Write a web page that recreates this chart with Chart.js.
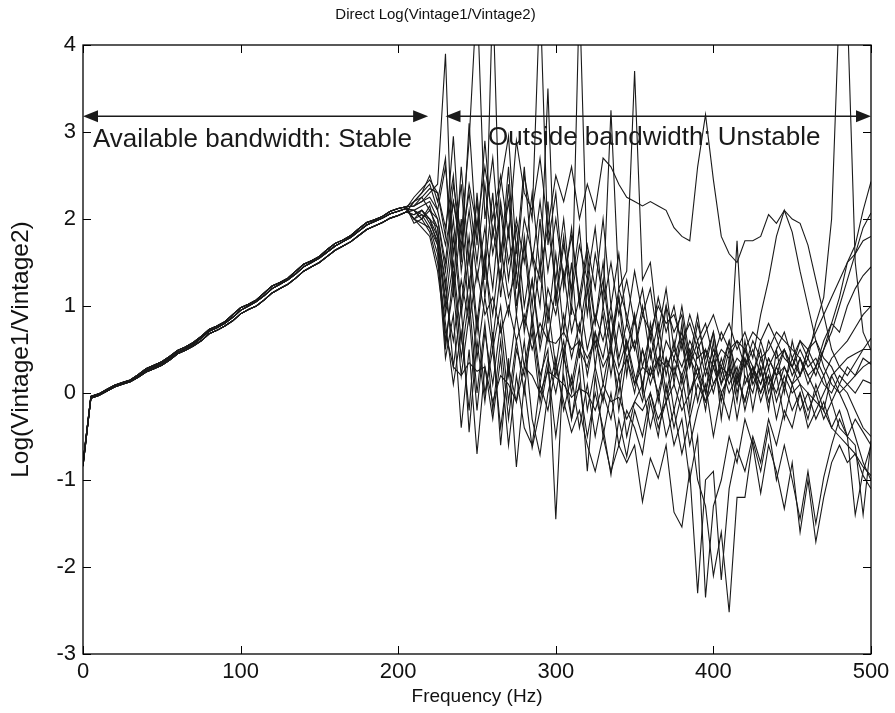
<!DOCTYPE html>
<html>
<head>
<meta charset="utf-8">
<title>Direct Log(Vintage1/Vintage2)</title>
<script src="https://cdn.jsdelivr.net/npm/chart.js@4.4.0/dist/chart.umd.min.js"></script>
<style>
  html, body { margin: 0; padding: 0; background: #fff; }
  #wrap { width: 895px; height: 713px; }
</style>
</head>
<body>
<div id="wrap"><canvas id="logChart" width="895" height="713"></canvas></div>
<script>
const freqHz = [
  0, 5, 10, 15, 20, 25, 30, 35, 40, 45, 50, 55, 60, 65, 70, 75, 80, 85, 90, 95,
  100, 105, 110, 115, 120, 125, 130, 135, 140, 145, 150, 155, 160, 165, 170, 175, 180, 185, 190, 195,
  200, 205, 210, 215, 220, 225, 230, 235, 240, 245, 250, 255, 260, 265, 270, 275, 280, 285, 290, 295,
  300, 305, 310, 315, 320, 325, 330, 335, 340, 345, 350, 355, 360, 365, 370, 375, 380, 385, 390, 395,
  400, 405, 410, 415, 420, 425, 430, 435, 440, 445, 450, 455, 460, 465, 470, 475, 480, 485, 490, 495, 500
];

// 0 - 205 Hz, the stable part (three slightly different traces of the band)
const stableA = [-0.8, -0.04, -0.01, 0.04, 0.09, 0.12, 0.15, 0.21, 0.28, 0.32, 0.36, 0.42, 0.49, 0.53, 0.58, 0.65, 0.73, 0.77, 0.82, 0.90,
  0.98, 1.02, 1.07, 1.15, 1.23, 1.27, 1.32, 1.40, 1.48, 1.52, 1.57, 1.65, 1.72, 1.76, 1.81, 1.89, 1.96, 1.99, 2.03, 2.09, 2.12, 2.14];
const stableB = [-0.82, -0.05, -0.02, 0.03, 0.08, 0.11, 0.14, 0.19, 0.26, 0.30, 0.34, 0.40, 0.47, 0.51, 0.56, 0.63, 0.71, 0.75, 0.80, 0.87,
  0.95, 1.00, 1.05, 1.12, 1.20, 1.25, 1.30, 1.37, 1.45, 1.50, 1.55, 1.62, 1.69, 1.74, 1.79, 1.86, 1.93, 1.97, 2.01, 2.06, 2.09, 2.12];
const stableC = [-0.84, -0.06, -0.03, 0.02, 0.07, 0.10, 0.13, 0.18, 0.24, 0.28, 0.32, 0.38, 0.45, 0.49, 0.54, 0.60, 0.68, 0.72, 0.77, 0.83,
  0.91, 0.96, 1.00, 1.07, 1.15, 1.20, 1.25, 1.32, 1.40, 1.45, 1.50, 1.57, 1.64, 1.69, 1.74, 1.81, 1.88, 1.92, 1.96, 2.01, 2.04, 2.08];

// 210 - 500 Hz, one array per measurement
const run01 = [2.15, 2.2, 2.3, 2.4, 3.9, 1.2, 2.6, 1.5, 2.2, 1.1,
  1.9, 1.3, 2.4, 1.0, 1.7, 0.8, 1.5, 0.6, 1.2, 0.4,
  1.0, 0.7, 1.3, 0.5, 0.9, 0.2, 0.8, 0.4, 0.6, 0.1,
  0.5, -0.1, 0.4, 0.2, 0.6, 0.0, 0.3, -0.2, 0.4, 0.1,
  0.3, -0.3, 0.2, 0.0, 0.4, 0.1, 0.3, 0.5, 0.2, 0.4,
  0.1, 0.3, 0.5, 0.8, 1.1, 1.5, 1.7, 2.1, 2.43];
const run02 = [2.1, 2.15, 2.2, 2.0, 1.5, 2.4, 1.8, 2.9, 4.6, 2.0,
  2.7, 1.6, 2.2, 1.4, 2.5, 2.0, 4.6, 1.7, 2.3, 1.2,
  1.9, 1.0, 1.6, 0.8, 1.3, 0.6, 1.1, 0.5, 0.9, 0.3,
  0.7, 0.2, 0.6, 0.4, 0.7, 0.3, 0.6, 0.2, 0.5, 0.3,
  0.6, 0.2, 0.5, 0.3, 0.1, 0.4, 0.2, 0.3, 0.1, 0.2,
  0.4, 0.2, 0.5, 0.7, 1.0, 1.3, 1.6, 1.9, 2.07];
const run03 = [2.2, 2.3, 2.5, 2.2, 2.7, 1.1, 2.0, 0.9, 2.3, 1.3,
  4.6, 1.5, 2.6, 1.2, 2.0, 1.6, 1.0, 2.2, 1.1, 1.8,
  0.9, 4.6, 1.4, 0.8, 1.5, 0.6, 1.2, 0.9, 0.5, 1.0,
  0.4, 0.8, 0.2, 0.6, 0.1, 0.5, 0.3, 0.0, 0.4, -0.1,
  0.3, 0.1, 0.5, 0.2, 0.6, 0.3, 0.5, 0.7, 0.4, 0.6,
  0.5, 0.7, 0.9, 1.1, 1.3, 1.5, 1.6, 1.75, 1.8];
const run04 = [2.15, 2.2, 2.25, 2.1, 1.7, 2.2, 1.6, 2.4, 1.9, 2.6,
  2.0, 2.5, 1.8, 2.9, 2.3, 2.1, 2.7, 1.9, 2.5, 2.2,
  2.6, 2.0, 2.4, 2.1, 2.7, 2.6, 2.4, 2.25, 2.2, 2.15,
  2.2, 2.15, 2.1, 1.9, 1.8, 1.75, 2.6, 3.2, 2.45, 1.8,
  1.6, 1.5, 1.75, 1.75, 1.8, 2.05, 1.95, 2.1, 2.0, 1.95,
  1.7, 1.3, 0.9, 0.5, 0.3, 0.2, 0.35, 0.5, 0.63];
const run05 = [2.1, 2.0, 2.1, 1.9, 1.0, 1.8, 0.9, 1.6, 0.7, 1.5,
  0.9, 1.7, 1.1, 1.4, 0.8, 1.3, 0.6, 1.2, 0.9, 1.4,
  0.7, 1.1, 0.5, 0.9, 0.6, 1.0, 0.4, 0.8, 0.5, 0.9,
  0.7, 1.0, 0.8, 0.9, 0.6, 0.8, 0.5, 0.7, 0.9, 0.6,
  0.8, 0.5, 0.7, 0.4, 0.9, 1.3, 1.8, 2.1, 1.85, 1.4,
  1.0, 0.6, 0.3, 0.1, 0.0, 0.1, 0.2, 0.3, 0.36];
const run06 = [2.05, 2.1, 2.0, 1.8, 0.9, 1.5, 0.6, 1.3, 0.4, 1.1,
  0.5, 1.0, 0.2, 0.9, 0.3, 0.8, 0.1, 0.7, 0.2, 0.6,
  0.0, 0.5, 0.3, 0.7, 0.1, 0.6, -0.2, 0.4, 0.0, 0.5,
  0.1, 0.4, -0.1, 0.3, 0.0, 0.4, 0.2, 0.5, 0.1, 0.3,
  0.0, 0.2, -0.1, 0.3, 0.1, 0.4, 0.2, 0.5, 0.3, 0.6,
  0.4, 0.8, 1.1, 2.0, 4.5, 4.4, 1.5, 0.7, 0.49];
const run07 = [2.0, 2.05, 1.9, 1.7, 0.6, 1.2, 0.2, 0.9, -0.2, 0.7,
  0.1, 0.8, -0.1, 0.6, 0.0, 0.9, 0.2, 0.5, -1.45, 0.4,
  0.1, 0.6, -0.2, 0.3, -0.1, 0.5, 0.0, 0.6, 0.2, -0.1,
  0.3, 0.0, 0.4, -0.2, 0.2, -0.3, 0.1, -0.1, 0.3, 0.0,
  0.2, 1.75, 0.1, 0.3, -0.1, 0.2, 0.0, 0.3, 0.1, 0.4,
  0.2, 0.0, 0.2, -0.1, 0.1, 0.3, 0.2, 0.4, 0.33];
const run08 = [2.0, 1.95, 1.9, 1.6, 0.4, 0.9, -0.4, 0.5, -0.7, 0.3,
  -0.3, 0.4, -0.6, 0.2, -0.4, -0.6, 0.1, -0.2, 0.3, -0.1,
  -0.45, -0.2, -0.6, -0.9, -0.5, -0.9, -0.6, -0.8, -0.6, -1.25,
  -0.75, -0.98, -0.6, -1.37, -1.54, -0.9, -2.3, -1.0, -0.9, -2.15,
  -1.1, -0.65, -0.9, -0.5, -0.8, -0.3, -0.6, -0.2, -0.4, 0.0,
  -0.3, 0.1, -0.2, 0.2, 0.0, -0.2, -0.5, -0.8, -1.0];
const run09 = [2.1, 2.0, 2.15, 1.8, 1.3, 0.3, 1.0, -0.45, 0.6, -0.1,
  0.7, -0.6, 0.4, -0.85, 0.1, -0.63, -0.2, 0.3, -0.5, 0.2,
  -0.3, 0.1, -0.5, 0.0, -0.4, -0.94, -0.3, -0.73, -0.2, -0.5,
  0.0, -0.4, -0.1, -0.6, -0.3, -1.0, -0.5, -2.35, -1.3, -1.0,
  -0.5, -0.8, -0.3, -0.6, -1.15, -0.6, -0.9, -1.33, -0.8, -1.6,
  -1.0, -1.71, -1.2, -0.8, -0.6, -0.8, -0.7, -0.95, -1.1];
const run10 = [1.95, 2.0, 1.85, 1.5, 0.8, 0.1, 0.7, -0.2, 0.9, 0.0,
  0.5, -0.4, 0.3, -0.1, 0.6, -0.3, -0.71, 0.0, 0.4, -0.2,
  0.2, -0.4, 0.1, -0.5, 0.0, -0.3, 0.2, -0.5, -0.1, 0.1,
  -0.4, 0.0, -0.5, -0.2, -0.7, -0.3, -1.0, -1.3, -2.1, -1.6,
  -2.52, -1.2, -1.2, -0.55, -0.9, -0.4, -1.0, -0.6, -1.0, -1.45,
  -0.9, -1.5, -0.97, -0.6, -0.3, -0.5, -0.6, -1.4, -0.55];
const run11 = [2.25, 2.35, 2.45, 2.3, 1.9, 2.5, 1.4, 2.1, 1.3, 1.9,
  1.2, 2.2, 1.5, 1.9, 1.0, 1.6, 1.3, 3.5, 1.0, 1.7,
  1.2, 1.9, 0.9, 1.6, 1.1, 3.25, 1.2, 1.4, 3.7, 1.3,
  1.5, 0.7, 1.2, 0.5, 1.0, 0.4, 0.9, 0.3, 0.7, 0.2,
  0.6, 0.1, 0.4, 0.2, 0.5, 0.0, 0.3, 0.1, 0.4, 0.2,
  0.5, 0.3, 0.6, 0.8, 0.7, 1.0, 1.2, 1.35, 1.45];
const run12 = [2.05, 2.1, 2.0, 1.9, 1.2, 2.0, 1.0, 1.8, 0.8, 1.6,
  0.6, 1.4, 0.9, 1.7, 0.7, 1.3, 0.5, 1.0, 0.3, 0.9,
  0.4, 0.8, 0.2, 0.7, 0.4, 0.9, 0.3, 0.6, 0.1, 0.5,
  0.2, 0.6, 0.0, 0.4, 0.2, 0.5, -0.1, 0.3, 0.0, 0.4,
  0.1, 0.3, -0.2, 0.2, 0.0, 0.3, -0.1, 0.2, 0.0, 0.1,
  -0.2, 0.0, -0.3, -0.1, -0.4, -0.5, -1.4, -0.9, -0.6];
const run13 = [2.15, 2.25, 2.1, 2.0, 1.4, 2.2, 1.7, 2.3, 1.5, 2.4,
  1.6, 2.1, 1.3, 2.0, 1.5, 2.3, 1.4, 1.9, 1.3, 2.0,
  1.1, 1.7, 1.3, 1.9, 1.0, 1.5, 0.9, 1.3, 0.8, 1.2,
  0.6, 1.1, 0.7, 1.0, 0.5, 0.9, 0.6, 0.8, 0.4, 0.7,
  0.5, 0.6, 0.3, 0.5, 0.2, 0.6, 0.4, 0.5, 0.3, 0.5,
  0.3, 0.4, 0.2, 0.4, 0.5, 0.6, 0.75, 0.9, 1.0];
const run14 = [2.0, 1.9, 1.8, 1.4, 0.7, 0.3, 0.2, 0.35, 0.25, 0.3,
  -0.1, 0.2, 0.1, -0.1, 0.3, 0.2, 0.0, 0.25, 0.18, 0.1,
  -0.05, 0.05, 0.0, -0.2, 0.1, -0.1, -0.05, -0.3, -0.1, -0.2,
  0.0, -0.3, -0.1, 0.1, -0.2, 0.0, 0.2, -0.1, 0.1, 0.3,
  0.2, 0.4, 0.3, 0.6, 0.4, 0.5, 0.7, 0.6, 0.5, 0.4,
  0.2, 0.3, 0.1, 0.0, 0.2, 0.1, 0.0, 0.15, 0.11];
const run15 = [2.1, 2.05, 2.0, 1.7, 1.1, 0.6, 1.3, 0.8, 1.4, 0.9,
  1.1, 0.7, 1.0, 0.6, 0.9, 0.5, 0.8, 0.6, 0.57, 0.7,
  0.5, 0.6, 0.4, 0.6, 0.3, 0.5, 0.2, 0.4, 0.1, 0.3,
  0.2, 0.4, 0.3, 0.5, 0.3, 0.6, 0.4, 0.5, 0.3, 0.5,
  0.4, 0.6, 0.5, 0.7, 0.6, 0.8, 0.6, 0.4, 0.3, 0.1,
  0.0, -0.1, -0.2, -0.4, -0.5, -0.6, -0.7, -0.85, -0.95];
const run16 = [2.2, 2.3, 2.4, 2.1, 2.6, 1.6, 2.4, 1.2, 2.0, 1.4,
  2.3, 1.1, 1.9, 0.9, 1.8, 1.0, 2.0, 0.8, 1.6, 0.7,
  1.5, 0.4, 1.2, 0.3, 1.0, 0.5, 1.1, 0.2, 0.9, 0.0,
  0.8, 0.3, 1.0, 0.1, 0.8, -0.2, 0.5, 0.0, 0.6, -0.3,
  0.4, -0.1, 0.6, 0.1, 0.3, -0.2, 0.5, 0.0, 0.6, 0.2,
  0.5, 0.6, 0.4, 0.3, 0.1, 0.0, -0.2, -0.4, -0.5];
const run17 = [2.0, 2.1, 1.95, 1.75, 0.5, 1.4, 0.4, 1.1, 0.0, 0.8,
  -0.2, 0.6, -0.3, 0.5, 0.2, 0.7, -0.1, 0.4, 0.0, 0.5,
  -0.3, 0.3, -0.9, 0.2, -0.5, 0.0, -0.6, -0.2, -0.4, -0.7,
  -0.1, -0.5, 0.1, -0.4, 0.0, -0.6, -0.2, 0.1, -0.5, 0.0,
  -0.3, 0.2, -0.1, 0.3, 0.0, 0.2, -0.3, 0.1, -0.2, 0.0,
  -0.4, -0.2, 0.0, 0.2, 0.3, 0.4, 0.45, 0.5, 0.5];
const run18 = [2.2, 2.25, 2.35, 2.3, 1.8, 2.95, 1.5, 3.1, 1.7, 2.9,
  1.8, 2.4, 2.95, 1.6, 2.6, 1.5, 2.2, 1.4, 2.0, 1.3,
  1.8, 1.1, 1.7, 1.2, 2.0, 1.0, 1.6, 0.8, 1.4, 0.9,
  1.2, 0.6, 1.0, 0.7, 0.9, 0.3, 0.8, 0.4, 0.7, 0.1,
  0.5, 0.0, 0.4, -0.2, 0.3, -0.1, 0.2, -0.3, 0.1, -0.2,
  0.0, -0.3, -0.1, -0.4, -0.2, -0.5, -0.3, -0.45, -0.6];

const runs = [
  [stableA, run01], [stableB, run02], [stableC, run03], [stableA, run04], [stableB, run05], [stableC, run06],
  [stableA, run07], [stableB, run08], [stableC, run09], [stableA, run10], [stableB, run11], [stableC, run12],
  [stableA, run13], [stableB, run14], [stableC, run15], [stableA, run16], [stableB, run17], [stableC, run18]
];

const bandLabels = ['Available bandwidth: Stable', 'Outside bandwidth: Unstable'];
const bandSpans = [[0, 219], [230, 500]];
const arrowLevel = 3.18;
const labelSpots = [[6.3, 2.83], [257, 2.85]];

const FONT = 'Arial, "Liberation Sans", Helvetica, sans-serif';
Chart.defaults.font.family = FONT;
Chart.defaults.color = '#111';

function buildDatasets() {
  return runs.map(([head, tail], i) => ({
    label: 'Run ' + (i + 1),
    data: head.concat(tail).map((v, k) => ({ x: freqHz[k], y: v })),
    borderColor: '#1a1a1a',
    borderWidth: 1.1,
    pointRadius: 0,
    tension: 0,
    fill: false
  }));
}

function drawArrowHead(ctx, x, y, dir) {
  ctx.beginPath();
  ctx.moveTo(x, y);
  ctx.lineTo(x - dir * 15, y - 6);
  ctx.lineTo(x - dir * 15, y + 6);
  ctx.closePath();
  ctx.fill();
}

// matlab style box with inward ticks, plus the bandwidth arrows
const matlabFrame = {
  id: 'matlabFrame',
  afterDraw(chart) {
    const { ctx, chartArea: a, scales: { x, y } } = chart;
    ctx.save();
    ctx.strokeStyle = '#000';
    ctx.lineWidth = 1.3;
    ctx.strokeRect(a.left, a.top, a.right - a.left, a.bottom - a.top);

    const tl = 8;
    ctx.lineWidth = 1;
    ctx.beginPath();
    x.ticks.forEach(t => {
      const px = Math.round(x.getPixelForValue(t.value)) + 0.5;
      ctx.moveTo(px, a.bottom); ctx.lineTo(px, a.bottom - tl);
      ctx.moveTo(px, a.top); ctx.lineTo(px, a.top + tl);
    });
    y.ticks.forEach(t => {
      const py = Math.round(y.getPixelForValue(t.value)) + 0.5;
      ctx.moveTo(a.left, py); ctx.lineTo(a.left + tl, py);
      ctx.moveTo(a.right, py); ctx.lineTo(a.right - tl, py);
    });
    ctx.stroke();

    ctx.strokeStyle = '#1a1a1a';
    ctx.fillStyle = '#1a1a1a';
    ctx.lineWidth = 1.5;
    const ay = y.getPixelForValue(arrowLevel);
    bandSpans.forEach(([x0, x1]) => {
      const p0 = x.getPixelForValue(x0);
      const p1 = x.getPixelForValue(x1);
      ctx.beginPath();
      ctx.moveTo(p0 + 10, ay);
      ctx.lineTo(p1 - 10, ay);
      ctx.stroke();
      drawArrowHead(ctx, p0, ay, -1);
      drawArrowHead(ctx, p1, ay, 1);
    });

    ctx.font = '26px ' + FONT;
    ctx.textAlign = 'left';
    ctx.textBaseline = 'alphabetic';
    bandLabels.forEach((txt, i) => {
      const [lx, ly] = labelSpots[i];
      ctx.fillText(txt, x.getPixelForValue(lx), y.getPixelForValue(ly));
    });
    ctx.restore();
  }
};

function renderLogChart() {
  const ctx = document.getElementById('logChart');
  return new Chart(ctx, {
    type: 'line',
    data: { datasets: buildDatasets() },
    plugins: [matlabFrame],
    options: {
      responsive: false,
      animation: false,
      devicePixelRatio: 1,
      layout: { padding: { left: 0, right: 24, top: 0, bottom: 0 } },
      plugins: {
        legend: { display: false },
        tooltip: { enabled: false },
        title: {
          display: true,
          text: 'Direct Log(Vintage1/Vintage2)',
          color: '#111',
          font: { size: 15, weight: 'normal' },
          padding: { top: 6, bottom: 21 }
        }
      },
      scales: {
        x: {
          type: 'linear',
          min: 0,
          max: 500,
          grid: { display: false, drawTicks: false },
          border: { display: false },
          ticks: { stepSize: 100, padding: 5, font: { size: 22 }, color: '#111', maxRotation: 0 },
          title: { display: true, text: 'Frequency (Hz)', color: '#111', font: { size: 19 }, padding: { top: 0, bottom: 5 } },
          afterFit: s => { s.height = 59; }
        },
        y: {
          min: -3,
          max: 4,
          grid: { display: false, drawTicks: false },
          border: { display: false },
          ticks: { stepSize: 1, padding: 7, font: { size: 22 }, color: '#111' },
          title: { display: true, text: 'Log(Vintage1/Vintage2)', color: '#111', font: { size: 24.5 }, padding: { top: 7, bottom: 0 } },
          afterFit: s => { s.width = 83; }
        }
      }
    }
  });
}

renderLogChart();
</script>
</body>
</html>
